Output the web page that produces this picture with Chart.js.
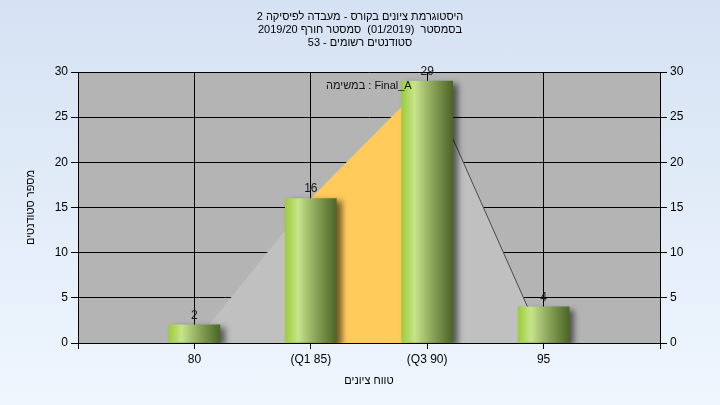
<!DOCTYPE html>
<html>
<head>
<meta charset="utf-8">
<script src="https://cdn.jsdelivr.net/npm/chart.js@4/dist/chart.umd.min.js"></script>
<style>
  html, body { margin: 0; padding: 0; overflow: hidden; }
  body { width: 720px; height: 405px; background: linear-gradient(#d5e2f3, #eff6fe); }
  canvas { display: block; }
</style>
</head>
<body>
<canvas id="histCanvas" width="720" height="405"></canvas>
<script>
// data
const scores = [80, 85, 90, 95];
const counts = [2, 16, 29, 4];
const tickLabels = ['80', '(Q1 85)', '(Q3 90)', '95'];

// distribution outline: zero at both ends, Q1..Q3 part filled yellow
const curveX = [80, 85, 90, 95];
const curveY = [0, 16, 29, 0];
const quartX = [85, 90];
const quartY = [16, 29];
const tailX = [90, 95];
const tailY = [29, 0];

const titleLines = [
    'היסטוגרמת ציונים בקורס - מעבדה לפיסיקה 2',
    'בסמסטר  (01/2019)  סמסטר חורף 2019/20',
    'סטודנטים רשומים - 53'
];
const xTitle = 'טווח ציונים';
const yTitle = 'מספר סטודנטים';
const taskLabel = 'במשימה : Final_A';

const FONT = 'Liberation Sans, Arial, sans-serif';
const pts = (xs, ys) => xs.map((x, i) => ({ x: x, y: ys[i] }));

function barGradient(context) {
    const chart = context.chart;
    const xs = chart.scales && chart.scales.x;
    if (!xs || !context.raw || !chart.chartArea) return '#9cc63c';
    const cx = xs.getPixelForValue(context.raw.x);
    if (!isFinite(cx)) return '#9cc63c';
    const half = 25.5;
    const g = chart.ctx.createLinearGradient(cx - half, 0, cx + half, 0);
    g.addColorStop(0, '#9ccd3b');
    g.addColorStop(0.25, '#c6e48b');
    g.addColorStop(0.6, '#8aa45a');
    g.addColorStop(1, '#4b6626');
    return g;
}

const plotBack = {
    id: 'plotBack',
    beforeDraw(chart) {
        const { ctx, chartArea: a } = chart;
        ctx.save();
        ctx.fillStyle = '#b4b4b4';
        ctx.fillRect(a.left, a.top, a.right - a.left, a.bottom - a.top);
        ctx.restore();
    },
    beforeDatasetDraw(chart, args) {
        if (args.index !== 0) return;
        const ctx = chart.ctx;
        ctx.save();
        ctx.shadowColor = 'rgba(0,0,0,0.55)';
        ctx.shadowBlur = 6;
        ctx.shadowOffsetX = 5;
        ctx.shadowOffsetY = 3;
    },
    afterDatasetDraw(chart, args) {
        if (args.index !== 0) return;
        chart.ctx.restore();
    },
    afterDatasetsDraw(chart) {
        const { ctx, chartArea: a } = chart;
        const meta = chart.getDatasetMeta(0);
        ctx.save();
        ctx.font = '12px ' + FONT;
        ctx.fillStyle = '#1a1a1a';
        ctx.textAlign = 'center';
        ctx.textBaseline = 'alphabetic';
        meta.data.forEach((el, i) => {
            ctx.fillText(String(counts[i]), el.x, el.y - 6);
        });
        ctx.font = '11px ' + FONT;
        ctx.textAlign = 'left';
        ctx.textBaseline = 'middle';
        ctx.fillStyle = '#111';
        ctx.fillText(taskLabel, a.left + 248, a.top + 14);
        ctx.restore();
    },
    afterDraw(chart) {
        const { ctx, chartArea: a, width } = chart;
        ctx.save();
        ctx.fillStyle = '#000';
        ctx.textAlign = 'center';
        ctx.textBaseline = 'middle';
        ctx.font = '11px ' + FONT;
        titleLines.forEach((line, i) => ctx.fillText(line, width / 2, 17 + i * 13));
        ctx.fillText(xTitle, (a.left + a.right) / 2, 381);
        ctx.restore();
    }
};

const ctx = document.getElementById('histCanvas').getContext('2d');
new Chart(ctx, {
    data: {
        datasets: [
            {
                type: 'bar',
                data: pts(scores, counts),
                backgroundColor: barGradient,
                borderWidth: 0,
                barThickness: 51,
                order: 0
            },
            {
                type: 'line',
                data: pts(tailX, tailY),
                borderColor: '#4a4a4a',
                borderWidth: 1,
                pointRadius: 0,
                fill: false,
                order: 1
            },
            {
                type: 'line',
                data: pts(quartX, quartY),
                borderWidth: 0,
                pointRadius: 0,
                backgroundColor: '#ffcb5a',
                fill: 'origin',
                order: 2
            },
            {
                type: 'line',
                data: pts(curveX, curveY),
                borderWidth: 0,
                pointRadius: 0,
                backgroundColor: '#c0c0c0',
                fill: 'origin',
                order: 3
            }
        ]
    },
    options: {
        responsive: false,
        animation: false,
        layout: { padding: { top: 72, left: 0, right: 0, bottom: 0 } },
        plugins: {
            legend: { display: false },
            tooltip: { enabled: false },
            title: { display: false }
        },
        scales: {
            x: {
                type: 'linear',
                min: 75,
                max: 100,
                offset: false,
                afterFit: s => { s.height = 62; },
                afterBuildTicks: s => { s.ticks = [75, 80, 85, 90, 95, 100].map(v => ({ value: v })); },
                ticks: {
                    color: '#000',
                    padding: 3,
                    maxRotation: 0,
                    autoSkip: false,
                    font: { family: FONT, size: 12 },
                    callback: v => {
                        const i = scores.indexOf(v);
                        return i < 0 ? '' : tickLabels[i];
                    }
                },
                grid: { color: '#000', tickLength: 6, lineWidth: 1, offset: false },
                border: { color: '#000' }
            },
            y: {
                position: 'left',
                min: 0,
                max: 30,
                afterFit: s => { s.width = 78; },
                ticks: { stepSize: 5, color: '#000', padding: 3, font: { family: FONT, size: 12 } },
                grid: { color: '#000', tickLength: 7, lineWidth: 1 },
                border: { color: '#000' },
                title: {
                    display: true,
                    text: yTitle,
                    color: '#000',
                    font: { family: FONT, size: 11 },
                    padding: { top: 24, bottom: 0 }
                }
            },
            y2: {
                position: 'right',
                min: 0,
                max: 30,
                afterFit: s => { s.width = 60; },
                ticks: { stepSize: 5, color: '#000', padding: 3, font: { family: FONT, size: 12 } },
                grid: { drawOnChartArea: false, color: '#000', tickLength: 7 },
                border: { color: '#000' }
            }
        }
    },
    plugins: [plotBack]
});
</script>
</body>
</html>
